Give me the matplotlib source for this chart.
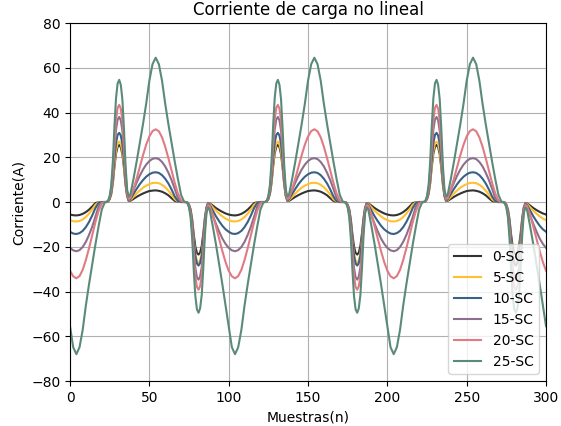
import numpy as np
import matplotlib
matplotlib.use('Agg')
import matplotlib.pyplot as plt

# sample positions inside one period (100 samples), denser around the spikes
phase = ([0, 2, 4, 6, 8, 10, 12, 14, 16, 18, 20, 22]
         + list(range(23, 38))
         + list(range(38, 73, 2))
         + list(range(73, 88))
         + [88, 90, 92, 94, 96, 98])

labels = ['0-SC', '5-SC', '10-SC', '15-SC', '20-SC', '25-SC']
colors = ['#333333', '#FFC12F', '#3A6086', '#8B6F8C', '#E07B84', '#5A8B79']

sc0 = [-5.6, -5.9, -6.0, -5.8, -5.3, -4.5, -3.4, -2.0, -0.5, -0.1, 0.0, 0.0,
       0.0, 0.3, 1.3, 3.6, 8.4, 15.8, 21.7, 24.7, 25.5, 24.5, 21.4, 15.3, 7.7, 2.6, 0.5,
       0.5, 1.4, 2.3, 3.1, 3.8, 4.4, 4.9, 5.1, 5.2, 5.0, 4.6, 3.9, 3.0, 1.7, 0.5, 0.1, 0.0, 0.0,
       0.0, -0.2, -1.2, -3.3, -7.8, -14.6, -20.0, -22.8, -23.5, -22.6, -19.7, -14.1, -7.1, -2.4, -0.5,
       -0.6, -1.6, -2.7, -3.6, -4.4, -5.1]
sc5 = [-8.1, -8.6, -8.7, -8.5, -7.8, -6.7, -5.2, -3.3, -1.2, -0.2, 0.0, 0.0,
       0.0, 0.3, 1.4, 3.8, 8.9, 16.7, 23.0, 26.2, 27.0, 25.9, 22.7, 16.2, 8.1, 2.7, 0.5,
       0.8, 2.3, 3.8, 5.2, 6.4, 7.3, 8.0, 8.5, 8.6, 8.4, 7.7, 6.6, 5.1, 3.3, 1.2, 0.2, 0.0, 0.0,
       0.0, -0.3, -1.4, -3.8, -9.0, -16.9, -23.1, -26.4, -27.2, -26.1, -22.8, -16.3, -8.2, -2.7, -0.5,
       -0.8, -2.4, -3.9, -5.2, -6.4, -7.4]
sc10 = [-13.3, -14.1, -14.3, -13.9, -12.9, -11.2, -8.9, -6.0, -2.7, -0.4, 0.0, 0.0,
        0.0, 0.3, 1.5, 4.3, 10.2, 19.2, 26.3, 30.0, 30.9, 29.7, 26.0, 18.5, 9.3, 3.1, 0.6,
        1.2, 3.6, 5.9, 8.0, 9.8, 11.3, 12.4, 13.1, 13.3, 13.0, 12.0, 10.4, 8.3, 5.6, 2.5, 0.4, 0.0, 0.0,
        0.0, -0.3, -1.4, -4.0, -9.4, -17.6, -24.1, -27.5, -28.4, -27.3, -23.9, -17.0, -8.5, -2.8, -0.6,
        -1.3, -3.9, -6.4, -8.6, -10.6, -12.2]
sc15 = [-20.5, -21.6, -22.0, -21.5, -20.1, -17.8, -14.7, -11.0, -6.6, -2.0, -0.2, 0.0,
        0.0, 0.4, 1.9, 5.3, 12.5, 23.6, 32.3, 36.9, 38.0, 36.5, 31.9, 22.8, 11.4, 3.8, 0.8,
        1.8, 5.4, 8.7, 11.8, 14.5, 16.7, 18.3, 19.3, 19.6, 19.2, 17.9, 15.9, 13.1, 9.8, 5.9, 1.8, 0.2, 0.0,
        0.0, -0.3, -1.7, -4.9, -11.5, -21.5, -29.5, -33.7, -34.7, -33.3, -29.1, -20.8, -10.4, -3.5, -0.7,
        -2.0, -6.0, -9.8, -13.2, -16.3, -18.7]
sc20 = [-30.7, -33.2, -34.1, -33.1, -30.3, -25.9, -20.6, -14.7, -9.0, -4.0, -0.7, 0.0,
        0.0, 0.4, 2.2, 6.1, 14.3, 26.9, 36.9, 42.1, 43.4, 41.7, 36.5, 26.0, 13.0, 4.3, 1.5,
        1.7, 5.7, 10.5, 15.7, 20.9, 25.6, 29.3, 31.7, 32.5, 31.6, 28.9, 24.7, 19.6, 14.0, 8.6, 3.8, 0.7, 0.0,
        0.0, -0.4, -2.0, -5.5, -12.9, -24.3, -33.3, -38.0, -39.2, -37.6, -32.9, -23.5, -11.8, -3.9, -1.5,
        -1.7, -5.9, -11.0, -16.5, -21.9, -26.8]
sc25 = [-55.5, -64.9, -68.0, -64.9, -57.1, -46.2, -36.7, -27.9, -19.0, -10.9, -3.4, 0.0,
        0.0, 0.5, 2.7, 7.6, 18.0, 33.9, 46.4, 53.0, 54.6, 52.4, 45.9, 32.8, 16.4, 5.5, 2.4,
        3.2, 10.3, 18.1, 26.4, 34.8, 43.9, 54.2, 61.6, 64.5, 61.6, 54.2, 43.9, 34.8, 26.4, 18.1, 10.3, 3.2, 0.0,
        0.0, -0.5, -2.5, -6.9, -16.3, -30.7, -42.1, -48.0, -49.5, -47.5, -41.6, -29.7, -14.9, -5.0, -2.4,
        -3.4, -10.9, -19.0, -27.9, -36.7, -46.2]

series = [sc0, sc5, sc10, sc15, sc20, sc25]
n_periods = 3

fig = plt.figure(figsize=(5.61, 4.26), dpi=100)
ax = fig.add_axes([0.1248, 0.1056, 0.8485, 0.8404])

ph = np.array(phase, dtype=float)
x = np.concatenate([ph + 100 * k for k in range(n_periods)] + [[100.0 * n_periods]])
for vals, lab, col in zip(series, labels, colors):
    v = np.array(vals)
    y = np.concatenate([v] * n_periods + [v[:1]])
    ax.plot(x, y, color=col, lw=1.5, label=lab)

ax.set_xlim(0, 300)
ax.set_ylim(-80, 80)
ax.set_yticks(np.arange(-80, 81, 20))
ax.grid(True)
ax.set_title('Corriente de carga no lineal')
ax.set_xlabel('Muestras(n)')
ax.set_ylabel('Corriente(A)')
ax.legend(loc='lower right')

fig.savefig('out.png', dpi=100)
